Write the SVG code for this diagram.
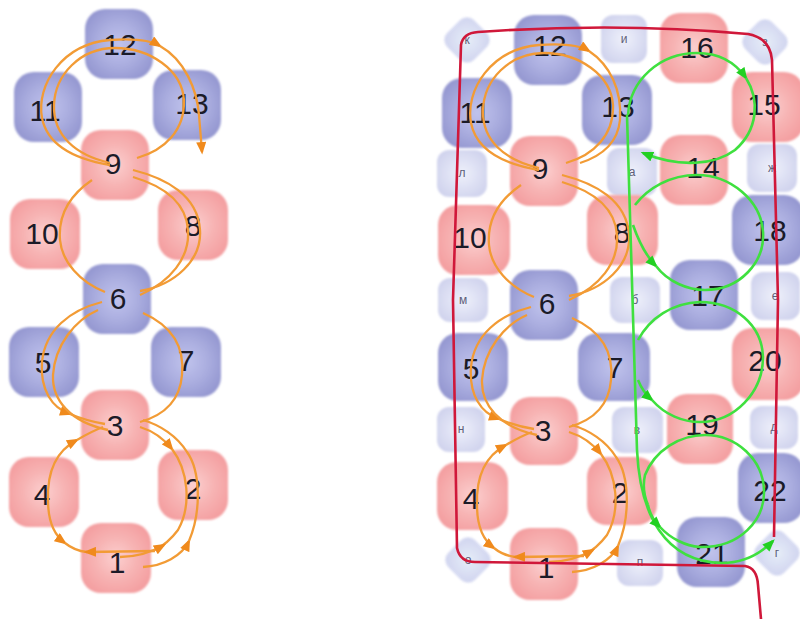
<svg xmlns="http://www.w3.org/2000/svg" xmlns:xlink="http://www.w3.org/1999/xlink" width="800" height="619" viewBox="0 0 800 619">
<defs>
<radialGradient id="gPink" cx="50%" cy="50%" r="60%">
<stop offset="0" stop-color="#fbcfcf"/><stop offset="0.5" stop-color="#f7b3b3"/><stop offset="1" stop-color="#f39c9e"/>
</radialGradient>
<radialGradient id="gBlue" cx="50%" cy="50%" r="60%">
<stop offset="0" stop-color="#c0c3ec"/><stop offset="0.5" stop-color="#abaee0"/><stop offset="1" stop-color="#9295cf"/>
</radialGradient>
<radialGradient id="gSmall" cx="50%" cy="50%" r="60%">
<stop offset="0" stop-color="#eef0fb"/><stop offset="1" stop-color="#cfd2ed"/>
</radialGradient>
<radialGradient id="gDia" cx="50%" cy="50%" r="60%">
<stop offset="0" stop-color="#e4ecf8"/><stop offset="1" stop-color="#ccd0ee"/>
</radialGradient>
<filter id="soft" x="-10%" y="-10%" width="120%" height="120%"><feGaussianBlur stdDeviation="1.3"/></filter>
<marker id="aO" viewBox="0 0 10 8" refX="8" refY="4" markerWidth="13" markerHeight="10" markerUnits="userSpaceOnUse" orient="auto"><path d="M0,0 L10,4 L0,8 z" fill="#f08a1c"/></marker>
<marker id="aG" viewBox="0 0 10 8" refX="8" refY="4" markerWidth="13" markerHeight="10" markerUnits="userSpaceOnUse" orient="auto"><path d="M0,0 L10,4 L0,8 z" fill="#22d022"/></marker>
<g id="orangeBase">
<path d="M110 165 C80 160 48 148 42 118 C36 85 62 44 110 40 C138 38 152 41 160 46" marker-end="url(#aO)"/>
<path d="M137 158 C165 150 185 130 184 100 C182 70 150 48 115 48 C80 48 55 75 54 105 C53 135 75 155 110 163"/>
<path d="M133 170 C165 178 198 195 200 230 C202 260 175 285 140 291"/>
<path d="M133 177 C160 185 186 200 188 230 C190 258 170 282 140 295"/>
<path d="M92 180 C70 195 58 215 60 240 C62 262 80 282 105 292"/>
<path d="M102 302 C70 310 45 330 42 362 C40 390 52 408 70 414" marker-end="url(#aO)"/>
<path d="M70 414 C82 419 93 422 105 424"/>
<path d="M98 310 C75 320 55 345 53 375 C52 400 70 422 108 430"/>
<path d="M143 313 C170 325 185 345 182 375 C180 400 165 415 140 422"/>
<path d="M143 567 C163 566 182 556 189 541" marker-end="url(#aO)"/>
<path d="M189 541 C202 510 200 470 187 452 C177 436 160 425 143 420"/>
<path d="M140 427 C153 431 164 439 172 449" marker-end="url(#aO)"/>
<path d="M172 449 C188 470 192 505 178 530 C172 538 165 545 155 550"/>
<path d="M120 557 C135 557 150 553 164 545" marker-end="url(#aO)"/>
<path d="M48 500 C47 470 58 450 77 440" marker-end="url(#aO)"/>
<path d="M77 440 C87 434 95 430 103 427"/>
<path d="M48 500 C48 520 54 535 65 543" marker-end="url(#aO)"/>
<path d="M65 543 C71 548 78 551 87 552"/>
<path d="M155 551 L86 552" marker-end="url(#aO)"/>
</g>
</defs>
<style>
.big{font-family:"Liberation Sans",Arial,sans-serif;font-size:30px;fill:#1b1b28;text-anchor:middle}
.sm{font-family:"Liberation Sans",Arial,sans-serif;font-size:12px;fill:#5e5e78;text-anchor:middle}
.pink{fill:url(#gPink);filter:url(#soft)}
.blue{fill:url(#gBlue);filter:url(#soft)}
.small{fill:url(#gSmall);filter:url(#soft)}
.dia{fill:url(#gDia);filter:url(#soft);opacity:0.9}
.or{fill:none;stroke:#f29b35;stroke-width:2.3}
.gr{fill:none;stroke:#3fe03f;stroke-width:2.6}
.rd{fill:none;stroke:#d0183a;stroke-width:2.6}
</style>
<rect width="800" height="619" fill="#ffffff"/>
<g id="nodesLeft">
<g id="L12"><rect class="blue" x="85" y="9" width="68" height="70" rx="20"/><text class="big" x="120" y="55">12</text></g>
<g id="L11"><rect class="blue" x="14" y="72" width="68" height="70" rx="20"/><text class="big" x="45" y="121">11</text></g>
<g id="L13"><rect class="blue" x="153" y="70" width="68" height="70" rx="20"/><text class="big" x="192" y="114">13</text></g>
<g id="L9"><rect class="pink" x="81" y="130" width="68" height="70" rx="20"/><text class="big" x="113" y="174">9</text></g>
<g id="L10"><rect class="pink" x="10" y="199" width="70" height="70" rx="20"/><text class="big" x="42" y="244">10</text></g>
<g id="L8"><rect class="pink" x="158" y="190" width="70" height="70" rx="20"/><text class="big" x="193" y="236">8</text></g>
<g id="L6"><rect class="blue" x="83" y="264" width="68" height="70" rx="20"/><text class="big" x="118" y="309">6</text></g>
<g id="L5"><rect class="blue" x="9" y="327" width="70" height="70" rx="20"/><text class="big" x="43" y="373">5</text></g>
<g id="L7"><rect class="blue" x="151" y="327" width="70" height="70" rx="20"/><text class="big" x="186" y="371">7</text></g>
<g id="L3"><rect class="pink" x="81" y="390" width="68" height="70" rx="20"/><text class="big" x="115" y="436">3</text></g>
<g id="L4"><rect class="pink" x="9" y="457" width="70" height="70" rx="20"/><text class="big" x="42" y="505">4</text></g>
<g id="L2"><rect class="pink" x="158" y="450" width="70" height="70" rx="20"/><text class="big" x="193" y="499">2</text></g>
<g id="L1"><rect class="pink" x="81" y="523" width="70" height="70" rx="20"/><text class="big" x="117" y="573">1</text></g>
</g>
<g id="nodesRightSmall">
<g id="s_k"><rect class="dia" x="448" y="21" width="38" height="38" rx="10" transform="rotate(45 467 40)"/><text class="sm" x="467" y="44">к</text></g>
<g id="s_i"><rect class="small" x="601" y="15" width="46" height="48" rx="12"/><text class="sm" x="624" y="43">и</text></g>
<g id="s_z"><rect class="dia" x="746" y="23" width="38" height="38" rx="10" transform="rotate(45 765 42)"/><text class="sm" x="765" y="46">з</text></g>
<g id="s_l"><rect class="small" x="437" y="150" width="50" height="47" rx="12"/><text class="sm" x="462" y="177">л</text></g>
<g id="s_a"><rect class="small" x="607" y="148" width="50" height="48" rx="12"/><text class="sm" x="632" y="176">а</text></g>
<g id="s_zh"><rect class="small" x="747" y="144" width="50" height="48" rx="12"/><text class="sm" x="772" y="172">ж</text></g>
<g id="s_m"><rect class="small" x="438" y="278" width="50" height="44" rx="12"/><text class="sm" x="463" y="304">м</text></g>
<g id="s_b"><rect class="small" x="610" y="277" width="50" height="46" rx="12"/><text class="sm" x="635" y="304">б</text></g>
<g id="s_e"><rect class="small" x="751" y="272" width="49" height="48" rx="12"/><text class="sm" x="775" y="300">е</text></g>
<g id="s_n"><rect class="small" x="437" y="407" width="48" height="45" rx="12"/><text class="sm" x="461" y="433">н</text></g>
<g id="s_v"><rect class="small" x="612" y="407" width="51" height="46" rx="12"/><text class="sm" x="637" y="434">в</text></g>
<g id="s_d"><rect class="small" x="750" y="406" width="48" height="43" rx="12"/><text class="sm" x="774" y="431">д</text></g>
<g id="s_o"><rect class="dia" x="449" y="541" width="38" height="38" rx="10" transform="rotate(45 468 560)"/><text class="sm" x="468" y="564">о</text></g>
<g id="s_p"><rect class="small" x="617" y="540" width="46" height="46" rx="12"/><text class="sm" x="640" y="566">п</text></g>
<g id="s_g"><rect class="dia" x="758" y="534" width="38" height="38" rx="10" transform="rotate(45 777 553)"/><text class="sm" x="777" y="557">г</text></g>
</g>
<g id="nodesRight">
<g id="R12"><rect class="blue" x="514" y="15" width="68" height="70" rx="20"/><text class="big" x="550" y="56">12</text></g>
<g id="R16"><rect class="pink" x="660" y="13" width="68" height="70" rx="20"/><text class="big" x="697" y="58">16</text></g>
<g id="R11"><rect class="blue" x="442" y="78" width="70" height="70" rx="20"/><text class="big" x="475" y="123">11</text></g>
<g id="R13"><rect class="blue" x="582" y="75" width="70" height="70" rx="20"/><text class="big" x="618" y="117">13</text></g>
<g id="R15"><rect class="pink" x="732" y="72" width="72" height="70" rx="20"/><text class="big" x="764" y="115">15</text></g>
<g id="R9"><rect class="pink" x="510" y="136" width="68" height="70" rx="20"/><text class="big" x="540" y="179">9</text></g>
<g id="R14"><rect class="pink" x="660" y="135" width="68" height="70" rx="20"/><text class="big" x="703" y="178">14</text></g>
<g id="R10"><rect class="pink" x="438" y="205" width="72" height="70" rx="20"/><text class="big" x="470" y="248">10</text></g>
<g id="R8"><rect class="pink" x="587" y="195" width="71" height="70" rx="20"/><text class="big" x="622" y="243">8</text></g>
<g id="R18"><rect class="blue" x="732" y="195" width="72" height="70" rx="20"/><text class="big" x="770" y="241">18</text></g>
<g id="R6"><rect class="blue" x="510" y="270" width="68" height="70" rx="20"/><text class="big" x="547" y="314">6</text></g>
<g id="R17"><rect class="blue" x="670" y="260" width="68" height="70" rx="20"/><text class="big" x="708" y="306">17</text></g>
<g id="R5"><rect class="blue" x="438" y="333" width="70" height="68" rx="20"/><text class="big" x="471" y="379">5</text></g>
<g id="R7"><rect class="blue" x="578" y="333" width="72" height="68" rx="20"/><text class="big" x="615" y="378">7</text></g>
<g id="R20"><rect class="pink" x="732" y="328" width="72" height="72" rx="20"/><text class="big" x="765" y="371">20</text></g>
<g id="R3"><rect class="pink" x="510" y="397" width="68" height="68" rx="20"/><text class="big" x="543" y="441">3</text></g>
<g id="R19"><rect class="pink" x="667" y="394" width="66" height="70" rx="20"/><text class="big" x="702" y="435">19</text></g>
<g id="R4"><rect class="pink" x="437" y="462" width="71" height="68" rx="20"/><text class="big" x="471" y="509">4</text></g>
<g id="R2"><rect class="pink" x="587" y="457" width="70" height="68" rx="20"/><text class="big" x="620" y="503">2</text></g>
<g id="R22"><rect class="blue" x="738" y="453" width="66" height="70" rx="20"/><text class="big" x="770" y="501">22</text></g>
<g id="R1"><rect class="pink" x="510" y="528" width="68" height="72" rx="20"/><text class="big" x="546" y="578">1</text></g>
<g id="R21"><rect class="blue" x="677" y="517" width="68" height="70" rx="20"/><text class="big" x="712" y="564">21</text></g>
</g>
<g id="connectors">
<g class="or">
<use xlink:href="#orangeBase" href="#orangeBase"/>
<path d="M160 46 C185 60 197 90 199 115 L202 152" marker-end="url(#aO)"/>
<use xlink:href="#orangeBase" href="#orangeBase" transform="translate(429,5)"/>
<path d="M589 51 C610 65 622 90 620 120 C618 140 605 155 580 163"/>
</g>
<g class="gr">
<path d="M627 115 L637 450 C640 515 665 562 722 563 C745 563 762 552 773 541" marker-end="url(#aG)"/>
<path d="M628 115 C630 80 660 53 697 53 C718 53 735 62 746 78" marker-end="url(#aG)"/>
<path d="M746 78 C760 100 758 130 735 150 C715 165 680 168 643 153" marker-end="url(#aG)"/>
<path d="M633 225 C640 245 648 258 656 266" marker-end="url(#aG)"/>
<path d="M656 266 C668 282 688 290 705 290 C740 290 765 262 763 232 C761 200 730 175 697 175 C670 175 648 188 635 205"/>
<path d="M638 380 C642 390 646 395 652 400" marker-end="url(#aG)"/>
<path d="M652 400 C665 415 683 422 700 422 C735 422 763 392 763 357 C762 325 735 302 700 302 C672 303 650 318 638 340"/>
<path d="M648 505 C650 515 654 521 660 527" marker-end="url(#aG)"/>
<path d="M660 527 C670 538 685 546 700 547 C740 548 765 520 764 490 C763 460 737 435 705 435 C680 435 655 450 645 475 C642 488 645 498 648 505"/>
</g>
<path class="rd" d="M774 537 L778 300 L772 60 Q770 38 748 34 Q620 22 478 32 Q463 33 461 45 L453 300 L457 548 Q460 562 475 562 L745 566 Q757 568 758 585 L761 619"/>
</g>
</svg>
